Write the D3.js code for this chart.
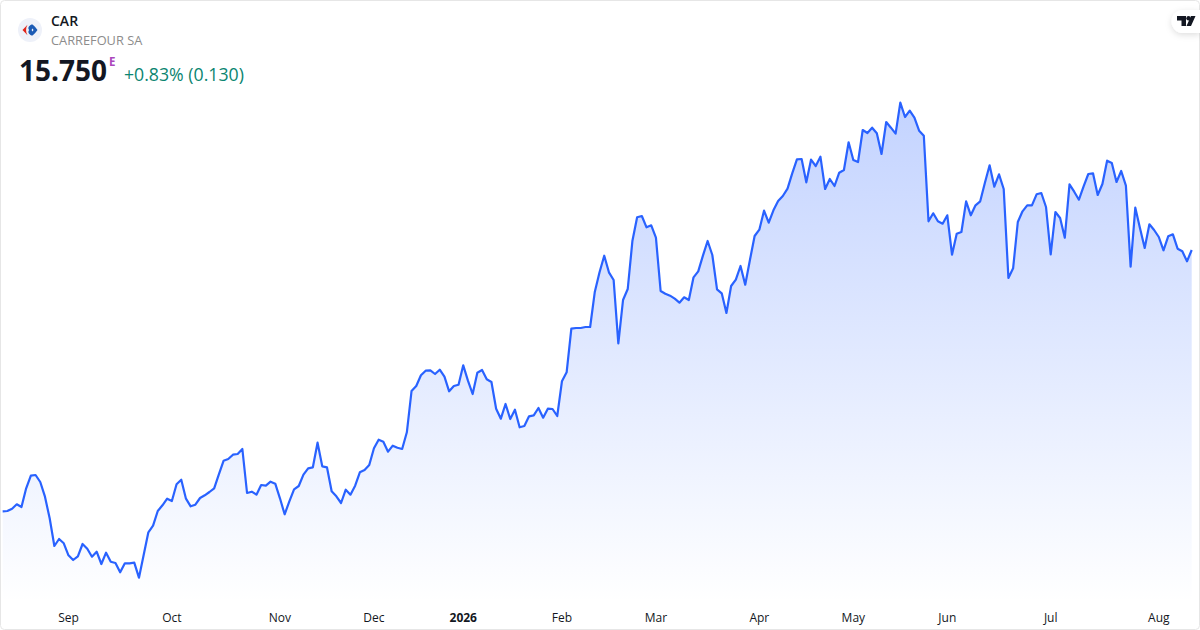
<!DOCTYPE html>
<html><head><meta charset="utf-8">
<script src="https://cdn.jsdelivr.net/npm/d3@7"></script>
<style>
html,body{margin:0;padding:0;background:#fff;width:1200px;height:630px;overflow:hidden}
svg{display:block;font-family:"Open Sans","Noto Sans",sans-serif}
.axis path,.axis line{display:none}
</style></head><body><svg id="c" width="1200" height="630"></svg>
<script>
const symbol="CAR", company="CARREFOUR SA", lastPrice="15.750", change="+0.83% (0.130)";
const closes=[12.353,12.357,12.387,12.444,12.409,12.652,12.816,12.825,12.734,12.543,12.262,11.902,11.993,11.937,11.781,11.72,11.768,11.928,11.867,11.763,11.828,11.668,11.815,11.698,11.681,11.56,11.677,11.677,11.685,11.49,11.785,12.08,12.166,12.357,12.431,12.517,12.487,12.704,12.764,12.517,12.418,12.439,12.526,12.561,12.604,12.652,12.834,13.009,13.033,13.089,13.098,13.163,12.591,12.608,12.569,12.695,12.686,12.738,12.712,12.522,12.314,12.483,12.639,12.682,
12.829,12.912,12.925,13.245,12.938,12.925,12.613,12.548,12.461,12.634,12.569,12.686,12.86,12.89,12.955,13.172,13.284,13.258,13.128,13.206,13.18,13.163,13.38,13.917,13.982,14.121,14.181,14.186,14.138,14.194,14.103,13.913,13.982,13.999,14.251,14.051,13.878,14.155,14.19,14.069,14.034,13.687,13.557,13.748,13.553,13.674,13.445,13.462,13.588,13.601,13.696,13.57,13.687,13.683,13.592,14.043,14.16,
14.727,14.736,14.736,14.749,14.749,15.208,15.46,15.676,15.46,15.36,14.537,15.1,15.243,15.871,16.175,16.192,16.045,16.071,15.91,15.217,15.182,15.156,15.117,15.065,15.135,15.1,15.395,15.473,15.676,15.867,15.685,15.239,15.187,14.931,15.282,15.364,15.542,15.299,15.62,15.932,16.014,16.261,16.105,16.266,16.387,16.452,16.547,
16.747,16.929,16.933,16.63,16.924,16.842,16.963,16.543,16.673,16.582,16.755,16.79,17.15,16.92,16.894,17.31,17.271,17.34,17.267,16.998,17.414,17.34,17.262,17.665,17.479,17.561,17.47,17.301,17.236,16.123,16.227,16.123,16.092,16.201,15.689,15.962,15.984,16.383,16.201,16.331,16.383,
16.625,16.851,16.573,16.734,16.543,15.386,15.512,16.114,16.253,16.331,16.331,16.474,16.491,16.309,15.694,16.244,16.166,15.91,16.604,16.508,16.404,16.578,16.738,16.747,16.465,16.608,16.911,16.881,16.634,16.777,16.586,15.533,16.3,16.032,15.776,16.084,16.01,15.919,15.746,15.928,15.954,15.767,15.733,15.603,15.75];
const tickIndex=[14,36,59,79,98,119,139,161,181,201,223,246];
const tickLabels=["Sep","Oct","Nov","Dec","2026","Feb","Mar","Apr","May","Jun","Jul","Aug"];

const svg=d3.select("#c");
const x=d3.scaleLinear().domain([0,closes.length-1]).range([2.67,1191.7]);
const y=d3.scaleLinear().domain([19,10.81]).range([0,630]);
const defs=svg.append("defs");
const g=defs.append("linearGradient").attr("id","fill").attr("gradientUnits","userSpaceOnUse").attr("x1",0).attr("x2",0).attr("y1",102).attr("y2",603);
g.append("stop").attr("offset",0).attr("stop-color","#2962FF").attr("stop-opacity",0.28);
g.append("stop").attr("offset",1).attr("stop-color","#2962FF").attr("stop-opacity",0.0);
const sh=defs.append("filter").attr("id","sh").attr("x","-30%").attr("y","-30%").attr("width","160%").attr("height","180%");
sh.append("feDropShadow").attr("dx",0).attr("dy",2).attr("stdDeviation",3).attr("flood-color","#000").attr("flood-opacity",0.13);

svg.append("path").datum(closes).attr("fill","url(#fill)")
  .attr("d",d3.area().x((d,i)=>x(i)).y0(603).y1(d=>y(d)));
svg.append("path").datum(closes).attr("fill","none").attr("stroke","#2962FF").attr("stroke-width",2.2).attr("stroke-linejoin","round")
  .attr("d",d3.line().x((d,i)=>x(i)).y(d=>y(d)));

const ax=svg.append("g").attr("class","axis").attr("transform","translate(-0.5,608)")
  .call(d3.axisBottom(x).tickValues(tickIndex).tickFormat((d,i)=>tickLabels[i]).tickSize(0).tickPadding(5));
ax.selectAll("text").attr("font-size",12).attr("fill","#131722")
  .attr("font-family",'"Open Sans","Noto Sans",sans-serif')
  .attr("font-weight",(d,i)=>tickLabels[i]==="2026"?700:400);

// header
const logo=svg.append("g").attr("transform","translate(30,30)");
logo.append("circle").attr("r",12).attr("fill","#EEF1F9");
logo.append("path").attr("fill","#1B5BB5").attr("d","M1.5,-5.5 C-1.2,-4 -2.6,-2 -0.8,0 C-2.6,2 -1.2,4 1.5,5.5 L2.5,5.5 C4.5,4.2 6,2 7.5,0 C6,-2 4.5,-4.2 2.5,-5.5Z");
logo.append("path").attr("fill","#EEF1F9").attr("d","M2.3,-1.5 C1.6,-0.8 1.6,0.8 2.3,1.5 C3,1.1 3.4,0.5 3.4,0 C3.4,-0.5 3,-1.1 2.3,-1.5Z");
logo.append("path").attr("fill","#E1251B").attr("d","M-2.5,-5.2 L-7.5,0 L-2.5,5.2 C-4.4,2 -4.4,-2 -2.5,-5.2Z");
svg.append("text").attr("x",51).attr("y",26).attr("font-size",14).attr("font-weight",600).attr("fill","#131722").text(symbol);
svg.append("text").attr("x",51).attr("y",45).attr("font-size",12.8).attr("fill","#8C8C8C").text(company);
svg.append("text").attr("x",19).attr("y",81).attr("font-size",28).attr("font-weight",700).attr("fill","#131722").text(lastPrice);
svg.append("text").attr("x",109).attr("y",66).attr("font-size",11.5).attr("font-weight",700).attr("fill","#AB47BC").text("E");
svg.append("text").attr("x",124).attr("y",81).attr("font-size",17.7).attr("fill","#0B8571").text(change);

// border
svg.append("rect").attr("x",0.5).attr("y",0.5).attr("width",1199).attr("height",629).attr("rx",4).attr("fill","none").attr("stroke","#E6E6E6");

// TradingView badge
svg.append("path").attr("fill","#fff").attr("filter","url(#sh)").attr("d","M1200,10 H1183 A11.5,11.5 0 0 0 1183,33 H1200Z");
svg.append("path").attr("fill","#131722").attr("d","M1177,16 H1186 V26 H1181.5 V20.5 H1177Z M1191,16 H1195.5 L1191,26 H1186.5Z");
svg.append("circle").attr("cx",1188.5).attr("cy",18.2).attr("r",2.2).attr("fill","#131722");
</script></body></html>
